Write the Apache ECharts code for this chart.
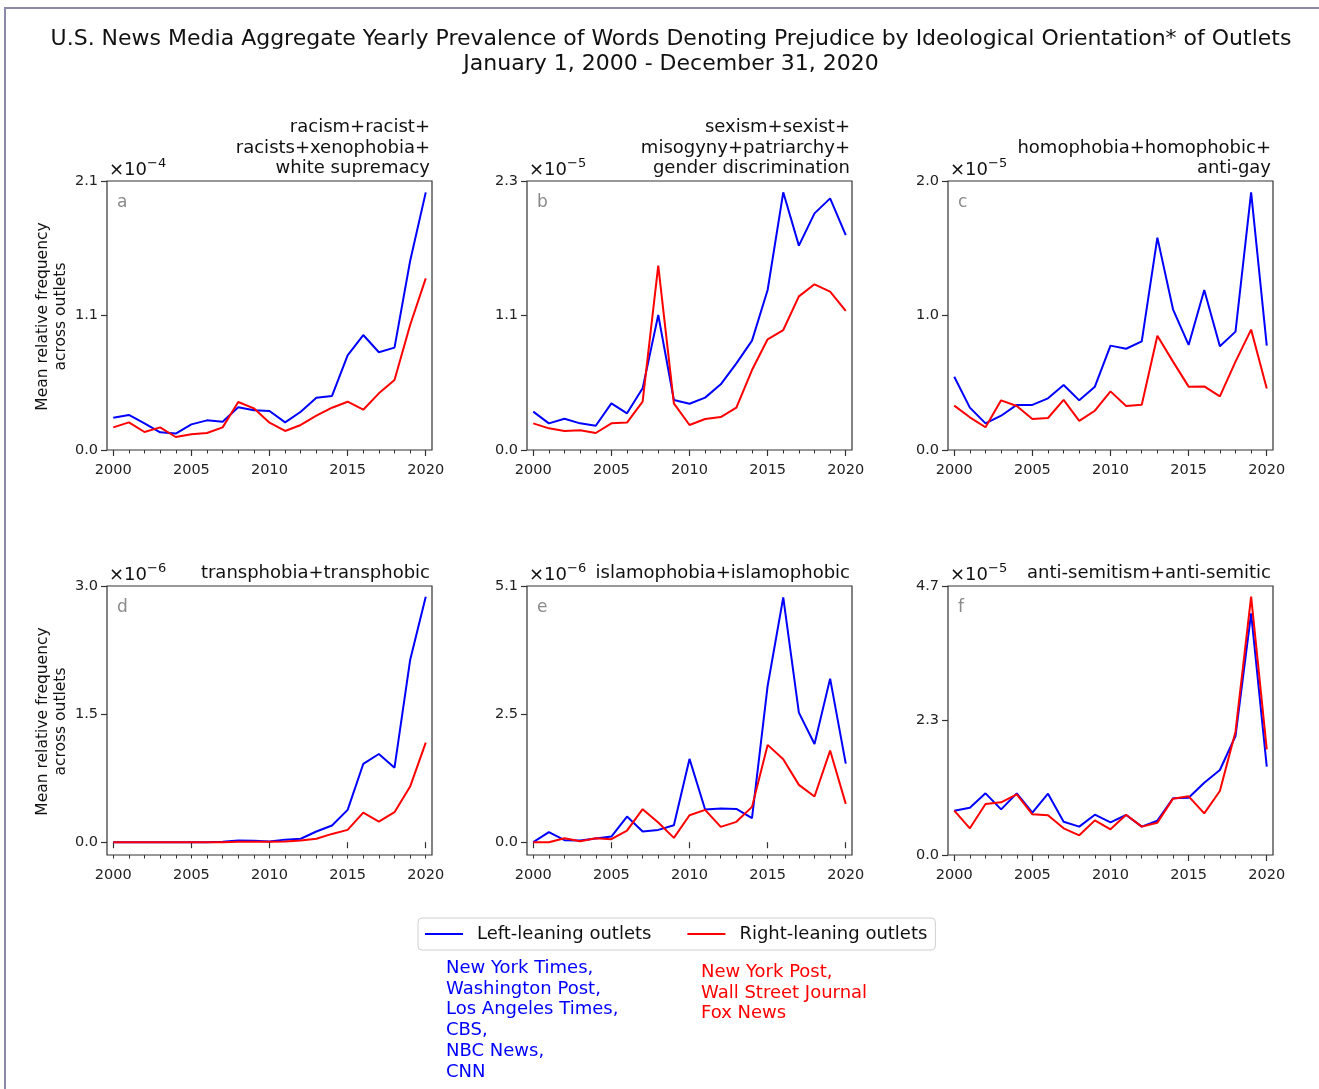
<!DOCTYPE html>
<html><head><meta charset="utf-8">
<script src="https://cdn.jsdelivr.net/npm/echarts@6/dist/echarts.min.js"></script>
<style>html,body{margin:0;padding:0;background:#fff}#c{width:1319px;height:1089px}</style>
</head><body><div id="c"></div><script>
const years = [2000,2001,2002,2003,2004,2005,2006,2007,2008,2009,2010,2011,2012,2013,2014,2015,2016,2017,2018,2019,2020];
const xTickYears = [2000,2005,2010,2015,2020];

// values in units of the panel's multiplier (×10^-n)
const racismLeft  = [0.258,0.280,0.213,0.141,0.131,0.205,0.237,0.226,0.341,0.317,0.312,0.221,0.306,0.418,0.432,0.757,0.919,0.781,0.818,1.511,2.059];
const racismRight = [0.181,0.221,0.144,0.181,0.104,0.125,0.136,0.181,0.384,0.333,0.218,0.152,0.200,0.274,0.338,0.386,0.322,0.453,0.559,0.999,1.372];
const sexismLeft  = [0.322,0.224,0.263,0.224,0.204,0.392,0.308,0.518,1.134,0.420,0.389,0.440,0.552,0.728,0.919,1.344,2.165,1.717,1.988,2.114,1.806];
const sexismRight = [0.224,0.182,0.160,0.165,0.143,0.224,0.230,0.406,1.549,0.392,0.210,0.260,0.277,0.356,0.672,0.930,1.008,1.291,1.392,1.330,1.168];
const homophobiaLeft  = [0.545,0.315,0.198,0.255,0.335,0.335,0.384,0.483,0.369,0.471,0.776,0.753,0.808,1.579,1.046,0.781,1.190,0.771,0.880,1.916,0.776];
const homophobiaRight = [0.330,0.243,0.169,0.369,0.327,0.230,0.238,0.372,0.216,0.292,0.436,0.327,0.337,0.850,0.657,0.471,0.473,0.399,0.657,0.895,0.458];
const transphobiaLeft  = [0.0,0.0,0.0,0.0,0.0,0.0,0.0,0.004,0.02,0.016,0.008,0.03,0.04,0.125,0.195,0.378,0.916,1.033,0.873,2.133,2.873];
const transphobiaRight = [0.0,0.0,0.0,0.0,0.0,0.0,0.0,0.0,0.004,0.004,0.004,0.008,0.02,0.04,0.097,0.144,0.347,0.242,0.351,0.651,1.166];
const islamophobiaLeft  = [0.0,0.199,0.040,0.033,0.073,0.113,0.511,0.212,0.245,0.338,1.658,0.650,0.670,0.663,0.478,3.110,4.875,2.580,1.956,3.256,1.565];
const islamophobiaRight = [0.0,0.0,0.080,0.020,0.080,0.060,0.232,0.657,0.391,0.086,0.537,0.643,0.305,0.405,0.703,1.937,1.651,1.141,0.909,1.824,0.763];
const antisemitismLeft  = [0.766,0.818,1.066,0.789,1.066,0.732,1.060,0.576,0.490,0.697,0.565,0.691,0.490,0.593,0.980,0.991,1.250,1.469,2.057,4.177,1.527];
const antisemitismRight = [0.766,0.461,0.882,0.910,1.049,0.703,0.686,0.461,0.340,0.599,0.444,0.697,0.490,0.559,0.974,1.014,0.720,1.106,2.132,4.465,1.827];

const leftSeries  = [racismLeft, sexismLeft, homophobiaLeft, transphobiaLeft, islamophobiaLeft, antisemitismLeft];
const rightSeries = [racismRight, sexismRight, homophobiaRight, transphobiaRight, islamophobiaRight, antisemitismRight];

const panelTitles = [
  'racism+racist+\nracists+xenophobia+\nwhite supremacy',
  'sexism+sexist+\nmisogyny+patriarchy+\ngender discrimination',
  'homophobia+homophobic+\nanti-gay',
  'transphobia+transphobic',
  'islamophobia+islamophobic',
  'anti-semitism+anti-semitic'
];
const panelLetters = ['a','b','c','d','e','f'];
const panelExponents = ['−4','−5','−5','−6','−6','−5'];
const yTickValues = [[0,1.075,2.15],[0,1.13,2.26],[0,1.0,2.0],[0,1.5,3.0],[0,2.55,5.1],[0,2.325,4.65]];
const yTickLabels = [['0.0','1.1','2.1'],['0.0','1.1','2.3'],['0.0','1.0','2.0'],['0.0','1.5','3.0'],['0.0','2.5','5.1'],['0.0','2.3','4.7']];
const yMins = [0,0,0,-0.15,-0.255,0];

const seriesNames = ['Left-leaning outlets','Right-leaning outlets'];
const leftOutlets = ['New York Times,','Washington Post,','Los Angeles Times,','CBS,','NBC News,','CNN'];
const rightOutlets = ['New York Post,','Wall Street Journal','Fox News'];
const titleLines = ['U.S. News Media Aggregate Yearly Prevalence of Words Denoting Prejudice by Ideological Orientation* of Outlets','January 1, 2000 - December 31, 2020'];
const yAxisName = 'Mean relative frequency\nacross outlets';

// ---------- layout ----------
const FONT = 'DejaVu Sans';
const BLUE = '#0000ff', RED = '#ff0000';
const gridLefts = [107, 527, 948];
const gridTops = [181, 586];
const GW = 325, GH = 269;

const grids = [], xAxes = [], yAxes = [], series = [], graphics = [];
for (let i = 0; i < 6; i++) {
  const col = i % 3, row = Math.floor(i / 3);
  const L = gridLefts[col], T = gridTops[row];
  grids.push({left: L, top: T, width: GW, height: GH, show: true, borderColor: '#333', borderWidth: 1.2, backgroundColor: 'transparent'});
  xAxes.push({
    gridIndex: i, type: 'value', min: 1999.6, max: 2020.4, position: 'bottom',
    axisLine: {show: false}, splitLine: {show: false},
    axisTick: {show: true, length: 6, customValues: xTickYears, lineStyle: {color: '#333', width: 1.2}},
    axisLabel: {show: true, customValues: xTickYears, margin: 13, fontFamily: FONT, fontSize: 14.5, color: '#222', formatter: v => String(Math.round(v))}
  });
  xAxes.push({
    gridIndex: i, type: 'value', min: 1999.6, max: 2020.4, position: 'bottom',
    axisLine: {show: false}, splitLine: {show: false},
    axisTick: {show: true, length: 3.5, customValues: years, lineStyle: {color: '#333', width: 1}},
    axisLabel: {show: false}
  });
  const tv = yTickValues[i], tl = yTickLabels[i];
  yAxes.push({
    gridIndex: i, type: 'value', min: yMins[i], max: tv[2],
    axisLine: {show: false}, splitLine: {show: false},
    axisTick: {show: true, length: 6, customValues: tv, lineStyle: {color: '#333', width: 1.2}},
    axisLabel: {show: true, customValues: tv, margin: 9, fontFamily: FONT, fontSize: 14.5, color: '#222',
      formatter: v => { for (let j = 0; j < tv.length; j++) if (Math.abs(v - tv[j]) < 1e-9) return tl[j]; return ''; }}
  });
  [leftSeries[i], rightSeries[i]].forEach((vals, k) => {
    series.push({
      name: seriesNames[k], type: 'line', xAxisIndex: 2 * i, yAxisIndex: i,
      data: years.map((y, j) => [y, vals[j]]),
      symbol: 'none', showSymbol: false, silent: true,
      lineStyle: {color: k ? RED : BLUE, width: 2},
      itemStyle: {color: k ? RED : BLUE}
    });
  });
  // panel title
  graphics.push({type: 'text', silent: true, style: {
    text: panelTitles[i], x: L + GW - 2, y: T - 2, align: 'right', verticalAlign: 'bottom',
    font: '18px "DejaVu Sans"', lineHeight: 20.7, fill: '#111'}});
  // offset text
  graphics.push({type: 'text', silent: true, style: {
    x: L + 2, y: T - 2, align: 'left', verticalAlign: 'bottom',
    text: '{b|×10}{s|' + panelExponents[i] + '}',
    rich: {b: {fontFamily: FONT, fontSize: 18, fill: '#111', color: '#111', verticalAlign: 'bottom', lineHeight: 22},
           s: {fontFamily: FONT, fontSize: 13, fill: '#111', color: '#111', verticalAlign: 'top', lineHeight: 22}}}});
  // panel letter
  graphics.push({type: 'text', silent: true, style: {
    text: panelLetters[i], x: L + 10, y: T + 22, align: 'left', verticalAlign: 'middle',
    font: '17px "DejaVu Sans"', fill: '#8a8a8a'}});
}
// y axis names
[0, 1].forEach(row => {
  graphics.push({type: 'text', silent: true, x: 52, y: gridTops[row] + GH / 2 + 1, rotation: Math.PI / 2,
    style: {text: yAxisName, x: 0, y: 0, align: 'center', verticalAlign: 'middle', font: '15.5px "DejaVu Sans"', lineHeight: 18, fill: '#111'}});
});
// figure title
graphics.push({type: 'text', silent: true, style: {text: titleLines[0], x: 671, y: 39, align: 'center', verticalAlign: 'middle', font: '22px "DejaVu Sans"', fill: '#111'}});
graphics.push({type: 'text', silent: true, style: {text: titleLines[1], x: 671, y: 64, align: 'center', verticalAlign: 'middle', font: '22px "DejaVu Sans"', fill: '#111'}});
// outlet lists
graphics.push({type: 'text', silent: true, style: {text: leftOutlets.join('\n'), x: 446, y: 958, align: 'left', verticalAlign: 'top', font: '18px "DejaVu Sans"', lineHeight: 20.7, fill: BLUE}});
graphics.push({type: 'text', silent: true, style: {text: rightOutlets.join('\n'), x: 701, y: 962, align: 'left', verticalAlign: 'top', font: '18px "DejaVu Sans"', lineHeight: 20.7, fill: RED}});
// figure frame (left and top edges)
graphics.push({type: 'line', silent: true, shape: {x1: 5, y1: 8, x2: 5, y2: 1089}, style: {stroke: '#8a8aa8', lineWidth: 2}});
graphics.push({type: 'line', silent: true, shape: {x1: 4, y1: 8, x2: 1319, y2: 8}, style: {stroke: '#8a8aa8', lineWidth: 2}});

const chart = echarts.init(document.getElementById('c'), null, {renderer: 'canvas'});
chart.setOption({
  animation: false,
  backgroundColor: '#fff',
  grid: grids, xAxis: xAxes, yAxis: yAxes, series: series,
  legend: {
    data: seriesNames.map(n => ({name: n, icon: 'rect'})), left: 418, top: 918, orient: 'horizontal',
    itemWidth: 38, itemHeight: 2, itemGap: 36, padding: [7, 8, 7, 7],
    borderColor: '#d0d0d0', borderWidth: 1, borderRadius: 4, backgroundColor: '#fff',
    selectedMode: false,
    textStyle: {fontFamily: FONT, fontSize: 18, color: '#111', padding: [0, 0, 0, 9], lineHeight: 18}
  },
  graphic: {elements: graphics}
});
</script></body></html>
